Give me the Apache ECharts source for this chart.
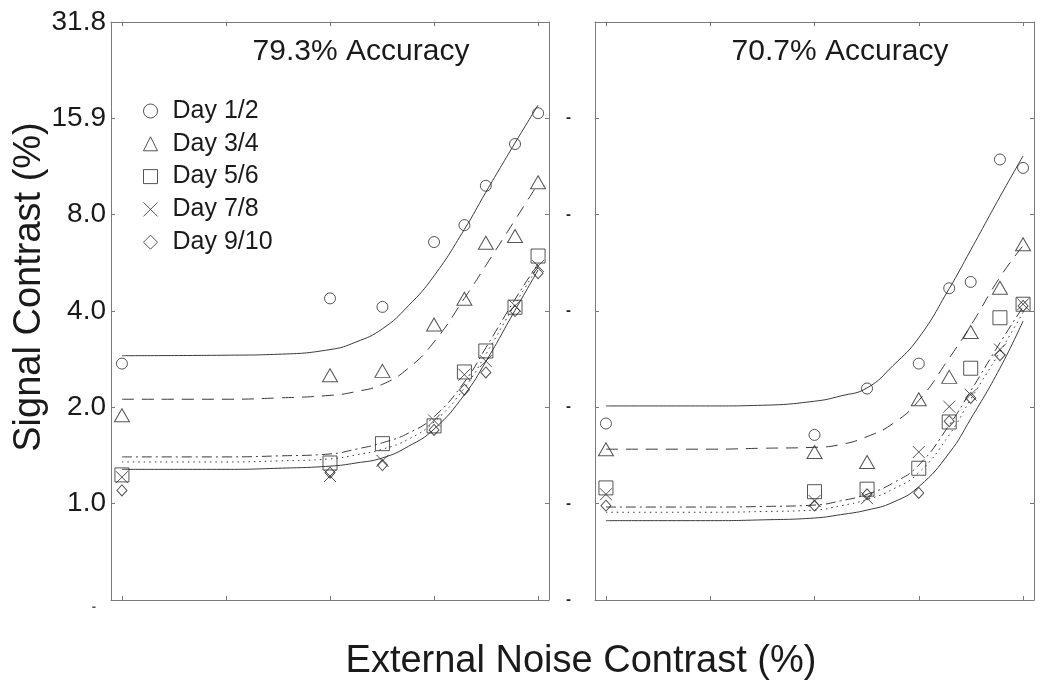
<!DOCTYPE html>
<html>
<head>
<meta charset="utf-8">
<script src="https://cdn.jsdelivr.net/npm/echarts@6/dist/echarts.min.js"></script>
<style>
  html, body { margin: 0; padding: 0; background: #ffffff; }
  #chart { width: 1042px; height: 685px; }
</style>
</head>
<body>
<div id="chart"></div>
<script>
// ---------------- data ----------------
const dayNames = ['Day 1/2', 'Day 3/4', 'Day 5/6', 'Day 7/8', 'Day 9/10'];
const panelTitles = ['79.3% Accuracy', '70.7% Accuracy'];
// external noise contrast (%) of the measured points; 0 = no external noise
const noiseLevels = [0, 8.25, 11.7, 16.5, 20.2, 23.3, 28.3, 33];
const zeroNoisePlotAt = 2.0625;           // where the zero-noise condition is drawn
const xTicks = [2.0625, 4.125, 8.25, 16.5, 33];
const yTicks = [0.5, 1, 2, 4, 8, 16, 32];
const yTickLabels = ['-', '1.0', '2.0', '4.0', '8.0', '15.9', '31.8'];
// noise contrasts at which the fitted curves were read
const fitNoise = [2.0625, 4.125, 5.83, 8.25, 9.81, 11.7, 13.9, 16.5, 20.2, 23.3, 28.3, 33];

// 79.3% accuracy thresholds (signal contrast %)
const acc79_day12  = [2.74, 4.38, 4.12, 6.57, 7.42, 9.85, 13.3, 16.6];
const acc79_day34  = [1.89, 2.52, 2.60, 3.63, 4.37, 6.54, 6.86, 10.1];
const acc79_day56  = [1.23, 1.34, 1.54, 1.75, 2.58, 3.00, 4.11, 5.94];
const acc79_day78  = [1.21, 1.22, 1.36, 1.82, 2.53, 2.79, 4.15, 5.53];
const acc79_day910 = [1.10, 1.25, 1.32, 1.70, 2.27, 2.57, 4.00, 5.25];
// 70.7% accuracy thresholds
const acc70_day12  = [1.78, 1.64, 2.29, 2.74, 4.71, 4.93, 11.9, 11.2];
const acc70_day34  = [1.48, 1.45, 1.35, 2.12, 2.49, 3.44, 4.73, 6.47];
const acc70_day56  = [1.12, 1.09, 1.11, 1.29, 1.80, 2.65, 3.81, 4.20];
const acc70_day78  = [1.07, 1.02, 1.04, 1.45, 2.01, 2.19, 3.03, 4.20];
const acc70_day910 = [0.986, 0.986, 1.07, 1.08, 1.81, 2.14, 2.91, 4.15];

// fitted model curves (at fitNoise)
const fit79_day12  = [2.90, 2.91, 2.93, 3.03, 3.20, 3.52, 4.15, 5.15, 7.20, 9.40, 13.4, 17.6];
const fit79_day34  = [2.12, 2.12, 2.14, 2.18, 2.24, 2.36, 2.65, 3.20, 4.38, 5.55, 7.70, 10.0];
const fit79_day56  = [1.40, 1.40, 1.41, 1.43, 1.48, 1.55, 1.66, 1.87, 2.40, 3.07, 4.35, 5.62];
const fit79_day78  = [1.35, 1.35, 1.36, 1.38, 1.42, 1.48, 1.59, 1.80, 2.30, 2.93, 4.20, 5.50];
const fit79_day910 = [1.28, 1.28, 1.29, 1.31, 1.34, 1.39, 1.51, 1.71, 2.19, 2.78, 4.02, 5.37];
const fit70_day12  = [2.02, 2.02, 2.03, 2.09, 2.17, 2.30, 2.70, 3.30, 4.70, 6.20, 9.10, 12.2];
const fit70_day34  = [1.48, 1.48, 1.49, 1.50, 1.53, 1.62, 1.78, 2.10, 2.85, 3.60, 5.10, 6.40];
const fit70_day56  = [0.976, 0.976, 0.98, 0.99, 1.02, 1.07, 1.16, 1.32, 1.76, 2.25, 3.18, 4.12];
const fit70_day78  = [0.94, 0.94, 0.945, 0.955, 0.985, 1.03, 1.11, 1.25, 1.64, 2.12, 2.98, 3.96];
const fit70_day910 = [0.885, 0.885, 0.89, 0.902, 0.924, 0.955, 1.01, 1.13, 1.44, 1.84, 2.65, 3.72];

const panelPoints = [
  [acc79_day12, acc79_day34, acc79_day56, acc79_day78, acc79_day910],
  [acc70_day12, acc70_day34, acc70_day56, acc70_day78, acc70_day910]
];
const panelFits = [
  [fit79_day12, fit79_day34, fit79_day56, fit79_day78, fit79_day910],
  [fit70_day12, fit70_day34, fit70_day56, fit70_day78, fit70_day910]
];

// ---------------- styles ----------------
const FONT = '"Liberation Sans", Arial, Helvetica, sans-serif';
const INK = '#1a1a1a';
const FRAME = '#7a7a7a';
const LINE = '#3a3a3a';
const symbols = ['circle', 'triangle', 'rect', 'path://M0,0L10,10M10,0L0,10', 'diamond'];
const symbolSizes = [11, [15, 13], 14, 12, [10, 11]];
const lineTypes = ['solid', [12, 8], [10, 4, 2, 4], [1.5, 4], 'solid'];

const pad = Math.pow(2, 0.105);
const xMin = xTicks[0] / pad;
const xMax = xTicks[xTicks.length - 1] * pad;

const grids = [
  { left: 111, right: 493, top: 22, bottom: 85 },
  { left: 595, right: 8, top: 22, bottom: 85 }
];

const axisLineStyle = { color: FRAME, width: 1 };
const xAxes = [];
const yAxes = [];
grids.forEach((g, gi) => {
  ['bottom', 'top'].forEach(pos => {
    xAxes.push({
      type: 'log', logBase: 2, gridIndex: gi, position: pos,
      min: xMin, max: xMax,
      axisLine: { show: true, onZero: false, lineStyle: axisLineStyle },
      axisTick: { show: true, inside: true, length: 4, customValues: xTicks, lineStyle: axisLineStyle },
      axisLabel: { show: false },
      splitLine: { show: false }, minorTick: { show: false }
    });
  });
  ['left', 'right'].forEach(pos => {
    const showLab = pos === 'left';
    yAxes.push({
      type: 'log', logBase: 2, gridIndex: gi, position: pos,
      min: yTicks[0], max: yTicks[yTicks.length - 1],
      axisLine: { show: true, onZero: false, lineStyle: axisLineStyle },
      axisTick: { show: true, inside: true, length: 4, customValues: yTicks, lineStyle: axisLineStyle },
      axisLabel: showLab ? (gi === 0 ? {
        show: true, customValues: yTicks, margin: 5,
        fontSize: 28, fontFamily: FONT, color: INK,
        formatter: v => {
          const idx = yTicks.indexOf(v);
          const t = idx >= 0 ? yTickLabels[idx] : '';
          return t === '-' ? '{s|-}' : t;
        },
        rich: { s: { fontSize: 13, fontWeight: 'bold', color: '#555', padding: [14, 10, 0, 0] } }
      } : {
        show: true, customValues: yTicks, margin: 24,
        fontSize: 15, fontWeight: 'bold', fontFamily: FONT, color: '#222',
        formatter: v => (v === yTicks[yTicks.length - 1] ? '' : '-')
      }) : { show: false },
      splitLine: { show: false }, minorTick: { show: false }
    });
  });
});

const series = [];
for (let p = 0; p < 2; p++) {
  for (let d = 0; d < 5; d++) {
    series.push({
      type: 'line', xAxisIndex: p * 2, yAxisIndex: p * 2,
      data: fitNoise.map((n, i) => [n, panelFits[p][d][i]]),
      showSymbol: false, symbol: 'none', smooth: 0.5,
      lineStyle: { color: LINE, width: 1, type: lineTypes[d] },
      silent: true, z: 2
    });
  }
  for (let d = 0; d < 5; d++) {
    series.push({
      type: 'scatter', name: dayNames[d], xAxisIndex: p * 2, yAxisIndex: p * 2,
      data: noiseLevels.map((n, i) => [n === 0 ? zeroNoisePlotAt : n, panelPoints[p][d][i]]),
      symbol: symbols[d], symbolSize: symbolSizes[d],
      itemStyle: { color: 'rgba(0,0,0,0)', borderColor: '#2a2a2a', borderWidth: 1 },
      emphasis: { disabled: true },
      z: 3
    });
  }
}

const option = {
  backgroundColor: '#ffffff',
  animation: false,
  grid: grids,
  xAxis: xAxes,
  yAxis: yAxes,
  legend: {
    data: dayNames.map((n, i) => ({ name: n, icon: symbols[i] })),
    orient: 'vertical', left: 138, top: 93.5,
    itemWidth: 14, itemHeight: 14, itemGap: 7.8,
    selectedMode: false,
    itemStyle: { color: 'rgba(0,0,0,0)', borderColor: '#2a2a2a', borderWidth: 1 },
    textStyle: { fontSize: 25, lineHeight: 25, fontFamily: FONT, color: INK, padding: [0, 0, 0, 10] }
  },
  graphic: [
    { type: 'text', x: 361, y: 52, style: { text: panelTitles[0], font: '30px ' + FONT, fill: INK, textAlign: 'center', textVerticalAlign: 'middle' } },
    { type: 'text', x: 840, y: 52, style: { text: panelTitles[1], font: '30px ' + FONT, fill: INK, textAlign: 'center', textVerticalAlign: 'middle' } },
    { type: 'text', x: 30, y: 287, rotation: Math.PI / 2, style: { text: 'Signal Contrast (%)', font: '38px ' + FONT, fill: INK, textAlign: 'center', textVerticalAlign: 'middle' } },
    { type: 'text', x: 581, y: 662, style: { text: 'External Noise Contrast (%)', font: '38px ' + FONT, fill: INK, textAlign: 'center', textVerticalAlign: 'middle' } }
  ],
  series: series
};

const chart = echarts.init(document.getElementById('chart'), null, { renderer: 'canvas' });
chart.setOption(option);
</script>
</body>
</html>
